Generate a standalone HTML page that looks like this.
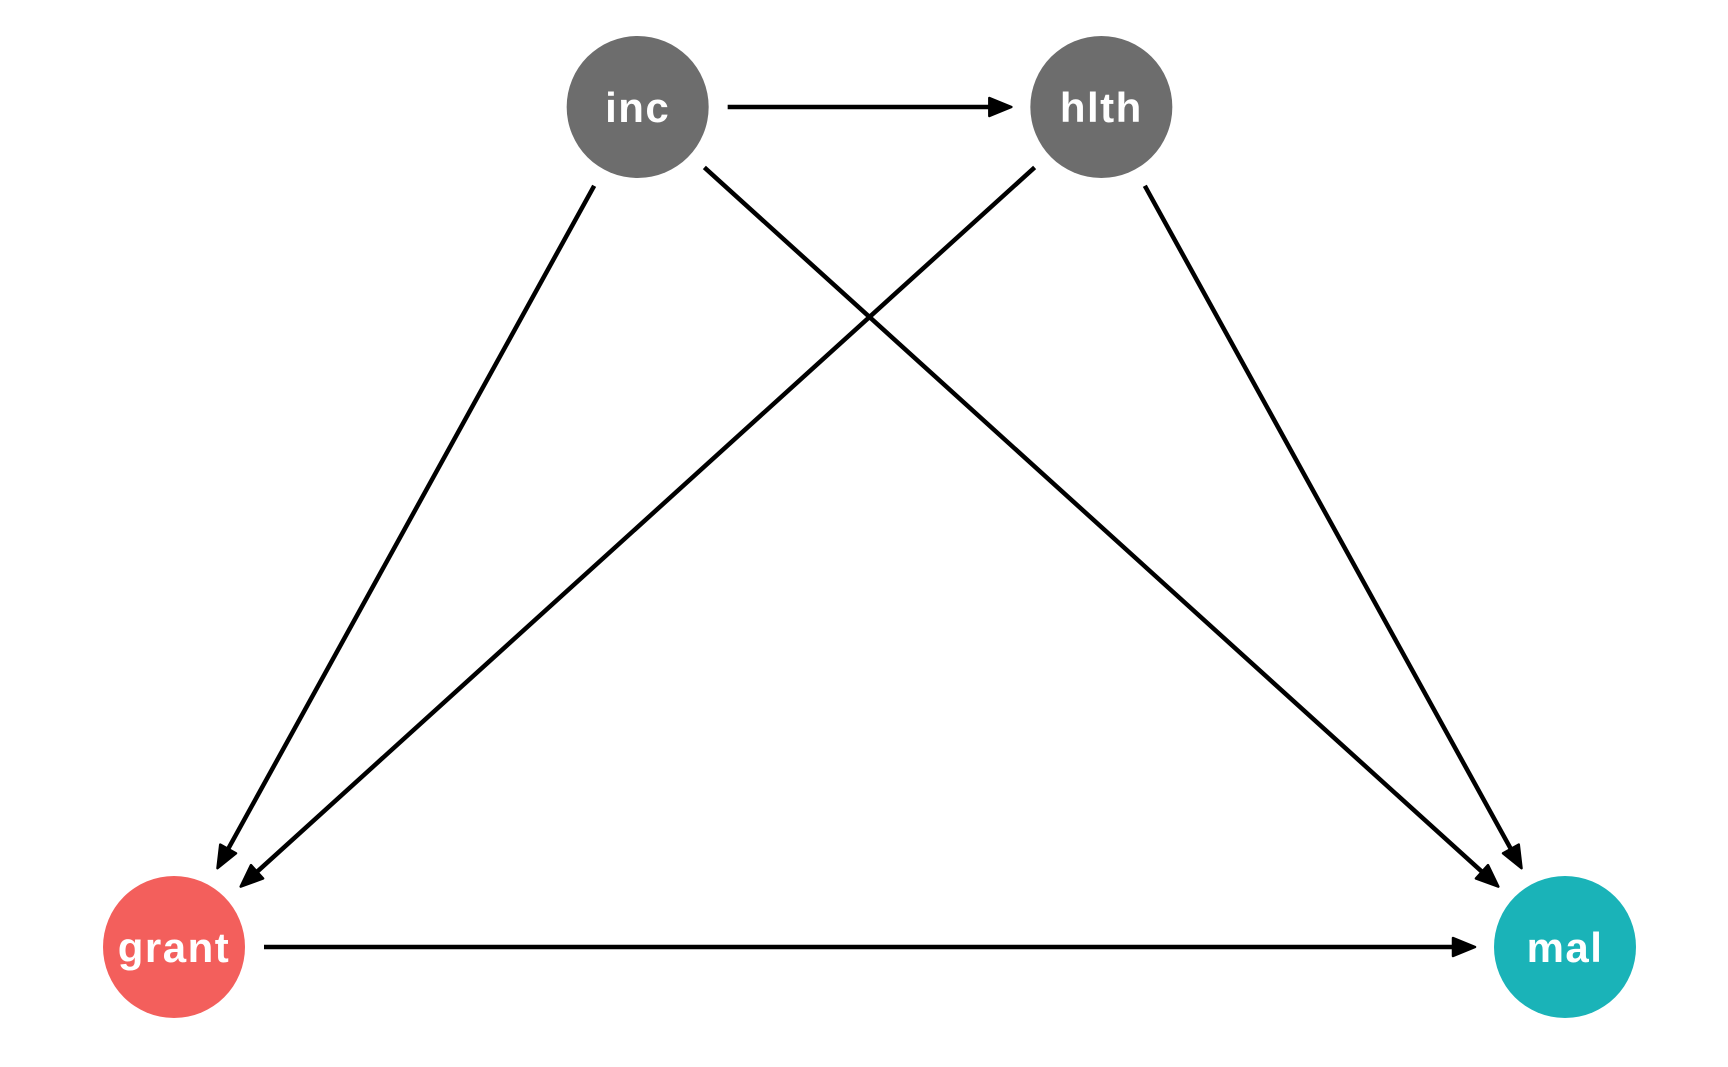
<!DOCTYPE html>
<html><head><meta charset="utf-8"><style>
html,body{margin:0;padding:0;background:#fff;}
svg{display:block;}
text{font-family:"Liberation Sans",sans-serif;font-weight:bold;fill:#fff;}
</style></head><body>
<svg id="dag" width="1728" height="1067" viewBox="0 0 1728 1067"></svg>
<script>
const nodeNames = ["inc","hlth","grant","mal"];
const nodeX = [1, 2, 0, 3];
const nodeY = [1, 1, 0, 0];
const nodeColors = ["#6d6d6d","#6d6d6d","#f35f5c","#1ab3b8"];
const edgeFrom = ["inc","inc","inc","hlth","hlth","grant"];
const edgeTo = ["hlth","grant","mal","grant","mal","mal"];

const svg = document.getElementById('dag');
const NS = "http://www.w3.org/2000/svg";
const sx = v => 174 + v * (1565 - 174) / 3;
const sy = v => 947 - v * (947 - 107);
const R = 71, GAP = 90, AL = 22, AW = 9;

const pos = {};
nodeNames.forEach((n,i)=>{ pos[n] = [sx(nodeX[i]), sy(nodeY[i])]; });

edgeFrom.forEach((f,i)=>{
  const t = edgeTo[i];
  const [x1,y1] = pos[f], [x2,y2] = pos[t];
  const d = Math.hypot(x2-x1,y2-y1), ux=(x2-x1)/d, uy=(y2-y1)/d;
  const ax=x1+ux*GAP, ay=y1+uy*GAP, bx=x2-ux*GAP, by=y2-uy*GAP;
  const g = document.createElementNS(NS,'g');
  
  
  const line = document.createElementNS(NS,'line');
  line.setAttribute('x1',ax); line.setAttribute('y1',ay);
  line.setAttribute('x2',bx-ux*AL*0.6); line.setAttribute('y2',by-uy*AL*0.6);
  line.setAttribute('stroke','#000'); line.setAttribute('stroke-width','4.5');
  g.appendChild(line);
  const bxs=bx-ux*AL, bys=by-uy*AL;
  const p = document.createElementNS(NS,'polygon');
  p.setAttribute('points', bx+','+by+' '+(bxs-uy*AW)+','+(bys+ux*AW)+' '+(bxs+uy*AW)+','+(bys-ux*AW));
  p.setAttribute('fill','#000'); p.setAttribute('stroke','#000'); p.setAttribute('stroke-width','2.5'); p.setAttribute('stroke-linejoin','round');
  g.appendChild(p);
  svg.appendChild(g);
});

nodeNames.forEach((n,i)=>{
  const g = document.createElementNS(NS,'g');
  
  
  const c = document.createElementNS(NS,'circle');
  c.setAttribute('cx',pos[n][0]); c.setAttribute('cy',pos[n][1]); c.setAttribute('r',R);
  c.setAttribute('fill',nodeColors[i]);
  g.appendChild(c);
  const t = document.createElementNS(NS,'text');
  t.setAttribute('x',pos[n][0]); t.setAttribute('y',pos[n][1]+15);
  t.setAttribute('text-anchor','middle'); t.setAttribute('font-size','42');
  t.setAttribute('letter-spacing','1.5');
  t.textContent = n;
  g.appendChild(t);
  svg.appendChild(g);
});
</script>
</body></html>
